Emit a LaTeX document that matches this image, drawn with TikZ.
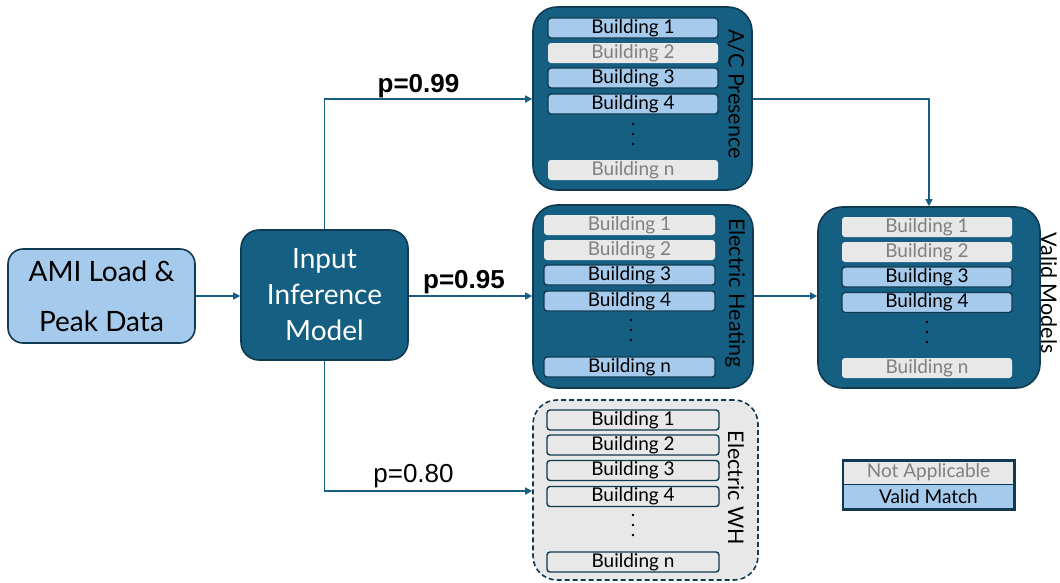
\documentclass[tikz,border=0pt]{standalone}
\usepackage{fontspec}
\setmainfont{Lato}
\newfontfamily\plabelfont{Liberation Sans}
\usetikzlibrary{arrows.meta}
\definecolor{teal}{HTML}{156082}
\definecolor{edge}{HTML}{0F3A50}
\definecolor{lblue}{HTML}{A6CAEC}
\definecolor{lgray}{HTML}{E8E8E8}
\definecolor{gtext}{HTML}{808080}
\tikzset{
  bigbox/.style={draw=edge, line width=1.6pt, fill=teal, rounded corners=24pt},
  rowfont/.style={font=\fontsize{19}{19}\selectfont},
  rowon/.style={draw=edge, line width=1.4pt, fill=lblue, rounded corners=3pt, minimum height=20pt, inner sep=0pt, text=black, rowfont},
  rowoff/.style={fill=lgray, rounded corners=3pt, minimum height=20pt, inner sep=0pt, text=gtext, rowfont},
  rowwh/.style={draw=edge, line width=1.4pt, fill=lgray, rounded corners=3pt, minimum height=20pt, inner sep=0pt, text=black, rowfont},
  side/.style={rotate=-90, font=\fontsize{21.5}{21.5}\selectfont, inner sep=0pt},
  flow/.style={draw=teal, line width=1.5pt, -{Triangle[length=7pt,width=7pt]}},
  plabel/.style={font=\plabelfont\fontsize{26}{26}\selectfont, inner sep=0pt, anchor=base},
  dot/.style={circle, fill=black, inner sep=0pt, minimum size=2.6pt}
}
\begin{document}
\begin{tikzpicture}[x=1pt,y=-1pt]
\useasboundingbox (0,0) rectangle (1060,582);

% source and inference boxes
\node (ami) [draw=edge, line width=1.6pt, fill=lblue, rounded corners=15pt,
  minimum width=187pt, minimum height=94pt, align=center,
  font=\fontsize{28}{50}\selectfont] at (101.5,296) {AMI Load \&\\Peak Data};
\node (iim) [draw=edge, line width=1.6pt, fill=teal, rounded corners=18pt,
  minimum width=167pt, minimum height=130pt, align=center, text=white,
  font=\fontsize{28}{36}\selectfont] at (324.5,295) {Input\\Inference\\Model};

% category boxes
\node (ac) [bigbox, minimum width=219pt, minimum height=183pt] at (642.5,98.5) {};
\node (eh) [bigbox, minimum width=220pt, minimum height=183pt] at (643,296.5) {};
\node (wh) [draw=edge, line width=1.6pt, dashed, dash pattern=on 5pt off 3pt, fill=lgray,
  rounded corners=24pt, minimum width=225pt, minimum height=180pt] at (645.5,490) {};
\node (vm) [bigbox, minimum width=222pt, minimum height=181pt] at (929,297.5) {};

% side titles
\node (acT) [side] at (736,94) {A/C Presence};
\node (ehT) [side] at (735,293) {Electric Heating};
\node (whT) [side] at (736,488) {Electric WH};
\node (vmT) [side] at (1049,293) {Valid Models};

% A/C presence rows
\node (ac1) [rowon,  minimum width=170pt] at (633,28)  {Building 1};
\node (ac2) [rowoff, minimum width=170pt] at (633,53)  {Building 2};
\node (ac3) [rowon,  minimum width=170pt] at (633,78)  {Building 3};
\node (ac4) [rowon,  minimum width=170pt] at (633,104) {Building 4};
\node (acn) [rowoff, minimum width=170pt] at (633,170) {Building n};
\foreach \y in {124,134,144} \node[dot] at (633,\y) {};

% electric heating rows
\node (eh1) [rowoff, minimum width=171pt] at (629.5,225) {Building 1};
\node (eh2) [rowoff, minimum width=171pt] at (629.5,250) {Building 2};
\node (eh3) [rowon,  minimum width=171pt] at (629.5,275) {Building 3};
\node (eh4) [rowon,  minimum width=171pt] at (629.5,301) {Building 4};
\node (ehn) [rowon,  minimum width=171pt] at (629.5,367) {Building n};
\foreach \y in {320,330,340} \node[dot] at (631,\y) {};

% electric water heater rows
\node (wh1) [rowwh, minimum width=172pt] at (633,420) {Building 1};
\node (wh2) [rowwh, minimum width=172pt] at (633,445) {Building 2};
\node (wh3) [rowwh, minimum width=172pt] at (633,470.5) {Building 3};
\node (wh4) [rowwh, minimum width=172pt] at (633,496.5) {Building 4};
\node (whn) [rowwh, minimum width=172pt] at (633,562) {Building n};
\foreach \y in {515,525,535} \node[dot] at (633,\y) {};

% valid model rows
\node (vm1) [rowoff, minimum width=170pt] at (927,227) {Building 1};
\node (vm2) [rowoff, minimum width=170pt] at (927,252) {Building 2};
\node (vm3) [rowon,  minimum width=170pt] at (927,277) {Building 3};
\node (vm4) [rowon,  minimum width=170pt] at (927,302.5) {Building 4};
\node (vmn) [rowoff, minimum width=170pt] at (927,368) {Building n};
\foreach \y in {322,332,342} \node[dot] at (927,\y) {};

% legend
\node (legNA) [fill=lgray, text=gtext, minimum width=171pt, minimum height=24pt, inner sep=0pt,
  rowfont] at (928.5,472.5) {Not Applicable};
\node (legVM) [fill=lblue, text=black, minimum width=171pt, minimum height=24pt, inner sep=0pt,
  rowfont] at (928.5,497) {Valid Match};
\draw[edge, line width=2.6pt] (legNA.north west) rectangle (legVM.south east);
\draw[edge, line width=1.4pt] (legNA.south west) -- (legNA.south east);

% connectors
\coordinate (acIn) at (ac.west |- 0,99);
\coordinate (whIn) at (wh.west |- 0,491);
\draw[flow] (ami.east |- 0,296) -- (iim.west |- 0,296);
\draw[flow] (iim.north) -- (iim.north |- acIn) -- (acIn);
\draw[flow] (iim.east |- 0,296) -- (eh.west |- 0,296);
\draw[flow] (iim.south) -- (iim.south |- whIn) -- (whIn);
\draw[flow] (ac.east |- 0,99) -- (vm.north |- 0,99) -- (vm.north);
\draw[flow] (eh.east |- 0,296) -- (vm.west |- 0,296);

% branch probabilities
\node (p99) [plabel, font=\plabelfont\bfseries\fontsize{26}{26}\selectfont] at (418.5,92) {p=0.99};
\node (p95) [plabel, font=\plabelfont\bfseries\fontsize{26}{26}\selectfont] at (464,288) {p=0.95};
\node (p80) [plabel] at (413.5,482) {p=0.80};
\end{tikzpicture}
\end{document}
